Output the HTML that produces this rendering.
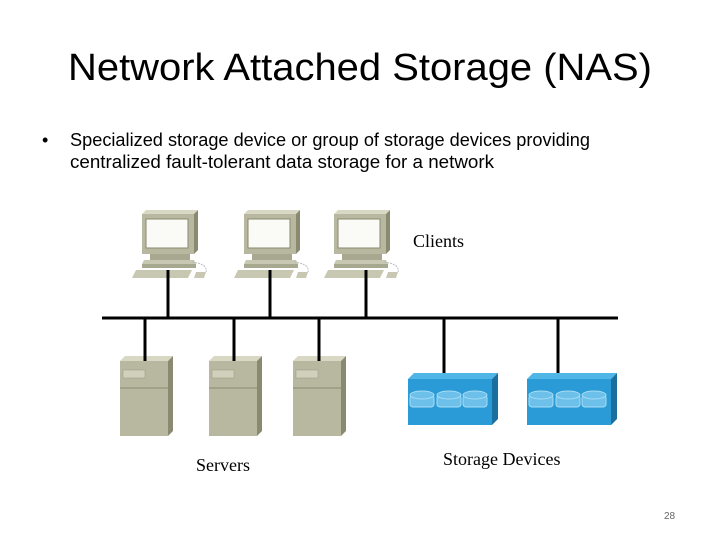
<!DOCTYPE html>
<html><head><meta charset="utf-8"><style>
html,body{margin:0;padding:0;background:#fff;}
svg{display:block;}
</style></head><body>
<svg width="720" height="540" viewBox="0 0 720 540" xmlns="http://www.w3.org/2000/svg">
<defs>
<g id="pc">
  <polygon points="0,0 52,0 56,-4 4,-4" fill="#d8d8c4"/>
  <polygon points="52,0 56,-4 56,36 52,40" fill="#8a8a70"/>
  <rect x="0" y="0" width="52" height="40" fill="#b8b8a0"/>
  <rect x="4" y="5" width="42" height="29" fill="#fafaf6" stroke="#8a8a70" stroke-width="1"/>
  <rect x="8" y="40" width="40" height="6" fill="#a8a890"/>
  <polygon points="2,46 52,46 54,50 0,50" fill="#c8c8b2"/>
  <rect x="0" y="50" width="54" height="4" fill="#a8a890"/>
  <polygon points="-6,56 50,56 46,64 -10,64" fill="#c8c8b2"/>
  <polygon points="54,58 64,58 62,64 52,64" fill="#c8c8b2"/>
  <path d="M50,48 Q66,50 64,58" fill="none" stroke="#bbb" stroke-width="1" stroke-dasharray="2,1"/>
</g>
<g id="srv">
  <polygon points="0,0 48,0 53,-5 5,-5" fill="#d8d8c4"/>
  <polygon points="48,0 53,-5 53,70 48,75" fill="#8a8a70"/>
  <rect x="0" y="0" width="48" height="75" fill="#b8b8a0"/>
  <line x1="0" y1="27" x2="48" y2="27" stroke="#8a8a70"/>
  <rect x="3" y="9" width="22" height="8" fill="#d0d0bc" stroke="#999980" stroke-width="0.5"/>
</g>
<g id="stor">
  <polygon points="0,6 6,0 90,0 84,6" fill="#4fb6e6"/>
  <polygon points="84,6 90,0 90,46 84,52" fill="#1a6f9e"/>
  <rect x="0" y="6" width="84" height="46" fill="#2a9bd6"/>
  <g fill="#6cc0ea" stroke="#a8dcf5" stroke-width="1">
    <rect x="2" y="22" width="24" height="12" rx="3"/><ellipse cx="14" cy="22" rx="12" ry="4"/>
    <rect x="29" y="22" width="24" height="12" rx="3"/><ellipse cx="41" cy="22" rx="12" ry="4"/>
    <rect x="55" y="22" width="24" height="12" rx="3"/><ellipse cx="67" cy="22" rx="12" ry="4"/>
  </g>
</g>
</defs>
<text x="68" y="80" font-family="Liberation Sans, sans-serif" font-size="38" textLength="584" lengthAdjust="spacingAndGlyphs" fill="#000">Network Attached Storage (NAS)</text>
<text x="42" y="146" font-family="Liberation Sans, sans-serif" font-size="18" fill="#000">•</text>
<text x="70" y="146" font-family="Liberation Sans, sans-serif" font-size="18" textLength="520" lengthAdjust="spacingAndGlyphs" fill="#000">Specialized storage device or group of storage devices providing</text>
<text x="70" y="168" font-family="Liberation Sans, sans-serif" font-size="18" textLength="424" lengthAdjust="spacingAndGlyphs" fill="#000">centralized fault-tolerant data storage for a network</text>

<use href="#pc" x="142" y="214"/>
<use href="#pc" x="244" y="214"/>
<use href="#pc" x="334" y="214"/>
<use href="#srv" x="120" y="361"/>
<use href="#srv" x="209" y="361"/>
<use href="#srv" x="293" y="361"/>
<use href="#stor" x="408" y="373"/>
<use href="#stor" x="527" y="373"/>

<g stroke="#000" stroke-width="3">
  <line x1="102" y1="318" x2="618" y2="318"/>
  <line x1="168" y1="270" x2="168" y2="318"/>
  <line x1="270" y1="270" x2="270" y2="318"/>
  <line x1="366" y1="270" x2="366" y2="318"/>
  <line x1="145" y1="318" x2="145" y2="361"/>
  <line x1="234" y1="318" x2="234" y2="361"/>
  <line x1="319" y1="318" x2="319" y2="361"/>
  <line x1="444" y1="318" x2="444" y2="373"/>
  <line x1="558" y1="318" x2="558" y2="373"/>
</g>
<g font-family="Liberation Serif, serif" font-size="18" fill="#000">
<text x="413" y="247">Clients</text>
<text x="196" y="471">Servers</text>
<text x="443" y="465">Storage Devices</text>
</g>
<text x="664" y="519" font-family="Liberation Sans, sans-serif" font-size="10" fill="#666">28</text>
</svg>
</body></html>
